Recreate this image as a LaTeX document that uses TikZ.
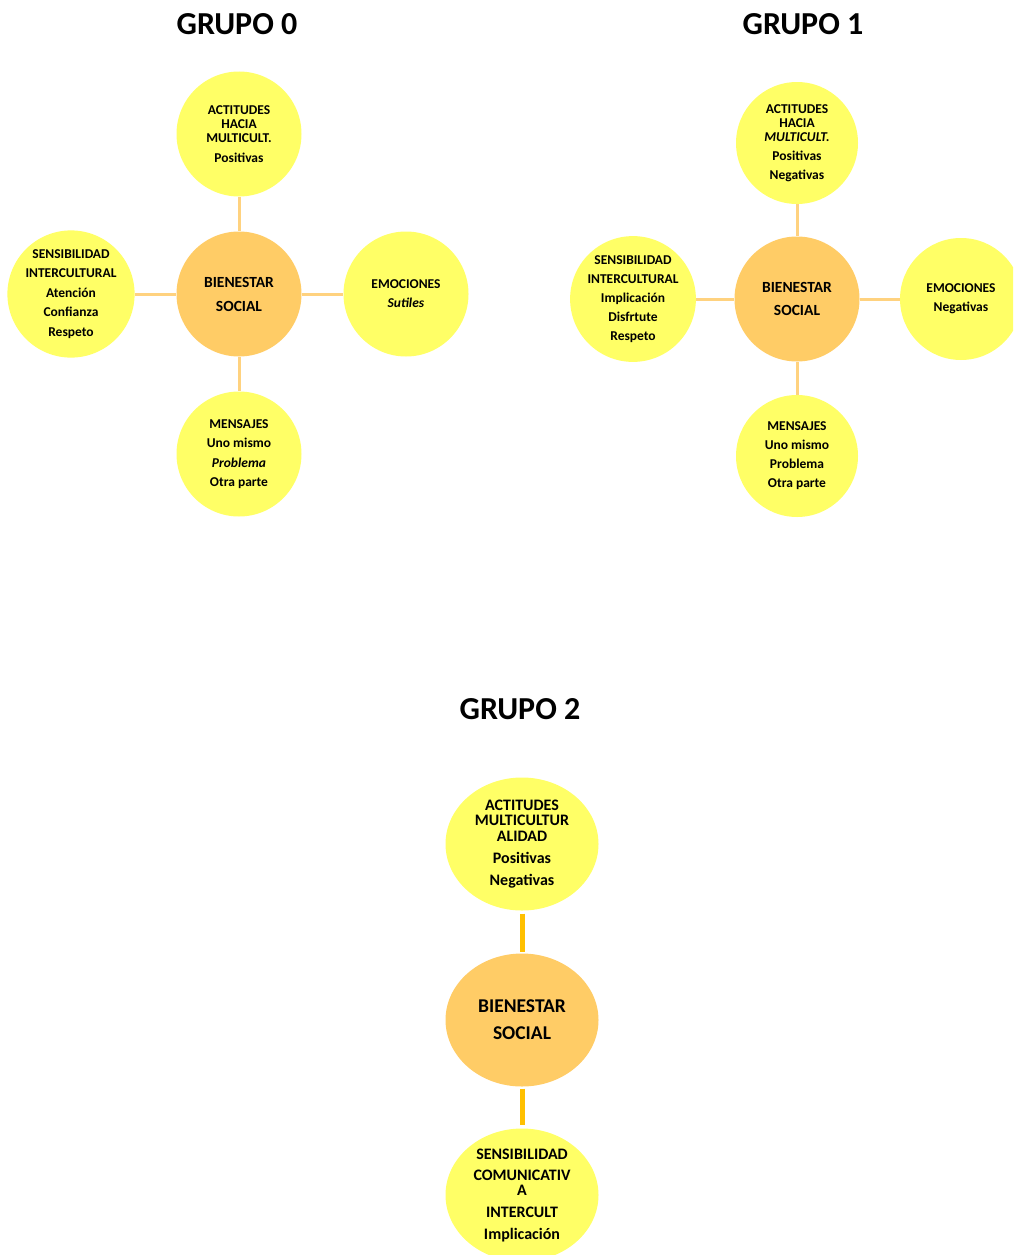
\documentclass[tikz,border=0pt]{standalone}
\usepackage{fontspec}
\setmainfont{Carlito}
\usetikzlibrary{shapes.geometric}
\definecolor{bubble}{HTML}{FFFF66}
\definecolor{core}{HTML}{FFCC66}
\definecolor{linkA}{HTML}{FFD27F}
\definecolor{linkB}{HTML}{FFC000}
\tikzset{
  title/.style={font=\bfseries\fontsize{32}{34}\selectfont, inner sep=0pt},
  leaf/.style={circle, fill=bubble, inner sep=0pt, minimum size=125pt, align=center,
    font=\bfseries\fontsize{13.5}{14}\selectfont},
  hub/.style={circle, fill=core, inner sep=0pt, minimum size=125pt, align=center,
    font=\bfseries\fontsize{15.5}{16}\selectfont},
  leafB/.style={ellipse, fill=bubble, inner sep=0pt, minimum width=153pt, minimum height=133pt,
    align=center, font=\bfseries\fontsize{16}{15.5}\selectfont},
  hubB/.style={ellipse, fill=core, inner sep=0pt, minimum width=153pt, minimum height=133pt,
    align=center, font=\bfseries\fontsize{19.5}{19}\selectfont},
  linkone/.style={draw=linkA, line width=3pt},
  linktwo/.style={draw=linkB, line width=5pt},
}
\begin{document}
\begin{tikzpicture}[x=1pt,y=-1pt]
\useasboundingbox (0,0) rectangle (1013,1255);
\clip (0,0) rectangle (1013,1255);
\fill[white] (0,0) rectangle (1013,1255);

% ---------- Grupo 0 ----------
\node[title] (t0) at (237,24) {GRUPO 0};
\node[hub]  (c0) at (239,294) {BIENESTAR\\[8pt]SOCIAL};
\node[leaf] (n0) at (239,134) {ACTITUDES\\HACIA\\MULTICULT.\\[6pt]Positivas};
\node[leaf] (w0) at (71,294) {SENSIBILIDAD\\[5.5pt]INTERCULTURAL\\[5.5pt]Atención\\[5.5pt]Confianza\\[5.5pt]Respeto};
\node[leaf] (e0) at (406,294) {EMOCIONES\\[5pt]\textit{Sutiles}};
\node[leaf] (s0) at (239,454) {MENSAJES\\[5.5pt]Uno mismo\\[5.5pt]\textit{Problema}\\[5.5pt]Otra parte};
\draw[linkone] (n0.south) -- (c0.north);
\draw[linkone] (c0.south) -- (s0.north);
\draw[linkone] (w0.east) -- (c0.west);
\draw[linkone] (c0.east) -- (e0.west);

% ---------- Grupo 1 ----------
\node[title] (t1) at (803,24) {GRUPO 1};
\node[hub]  (c1) at (797,299) {BIENESTAR\\[7pt]SOCIAL};
\node[leaf, minimum size=122pt] (n1) at (797,143) {ACTITUDES\\HACIA\\\textit{MULTICULT.}\\[5pt]Positivas\\[5pt]Negativas};
\node[leaf, minimum size=122pt] (w1) at (633,299) {SENSIBILIDAD\\[5pt]INTERCULTURAL\\[5pt]Implicación\\[5pt]Disfrtute\\[5pt]Respeto};
\node[leaf, minimum size=122pt] (e1) at (961,299) {EMOCIONES\\[5pt]Negativas};
\node[leaf, minimum size=122pt] (s1) at (797,456) {MENSAJES\\[5pt]Uno mismo\\[5pt]Problema\\[5pt]Otra parte};
\draw[linkone] (n1.south) -- (c1.north);
\draw[linkone] (c1.south) -- (s1.north);
\draw[linkone] (w1.east) -- (c1.west);
\draw[linkone] (c1.east) -- (e1.west);

% ---------- Grupo 2 ----------
\node[title] (t2) at (520,709) {GRUPO 2};
\node[leafB] (n2) at (522,844) {ACTITUDES\\MULTICULTUR\\ALIDAD\\[6.5pt]Positivas\\[6.5pt]Negativas};
\node[hubB]  (c2) at (522,1020) {BIENESTAR\\[8pt]SOCIAL};
\node[leafB] (s2) at (522,1195) {SENSIBILIDAD\\[5.5pt]COMUNICATIV\\A\\[6pt]INTERCULT\\[6.5pt]Implicación};
\draw[linktwo] ([yshift=-3pt]n2.south) -- ([yshift=1pt]c2.north);
\draw[linktwo] ([yshift=-2pt]c2.south) -- ([yshift=3pt]s2.north);
\end{tikzpicture}
\end{document}
